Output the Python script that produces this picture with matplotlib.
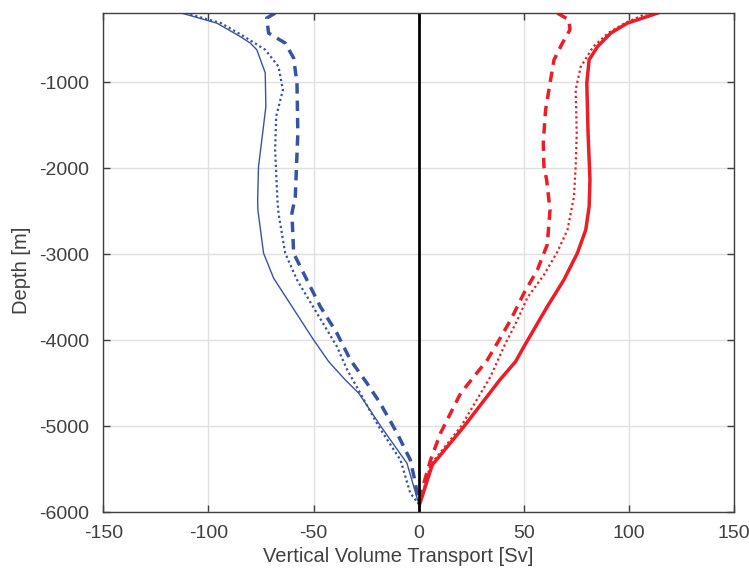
import numpy as np
import matplotlib.pyplot as plt

plt.rcParams['font.family'] = ['Liberation Sans', 'DejaVu Sans']
plt.rcParams['axes.unicode_minus'] = False

# Data (depth [m], transport [Sv])
# -------------------------------------------------------
blue_solid_depth = [-198, -314, -470, -546, -624, -892, -1287, -1985, -2369, -2485,
                    -2988, -3279, -3996, -4249, -4462, -4616, -5005, -5430, -5900]
blue_solid_val = [-112.7, -96, -84.9, -80.1, -77, -73, -72.7, -76.2, -76.6, -76.5,
                  -73.8, -69, -50, -42.8, -34.9, -28.5, -17.9, -5.6, 0]

blue_dot_depth = [-198, -314, -470, -624, -818, -1089, -1400, -1787, -2369, -2523,
                  -2988, -3298, -3686, -4074, -4345, -4616, -5005, -5392, -5779, -5900]
blue_dot_val = [-111, -94, -83, -73, -66.7, -64.6, -67.8, -68.3, -67.2, -66.7,
                -63.5, -57.9, -48.4, -38.9, -34, -27.8, -19, -8.7, -4, 0]

blue_dash_depth = [-198, -256, -430, -546, -720, -1012, -1593, -2330, -2523, -2988,
                   -3298, -3609, -3919, -4229, -4500, -4733, -5081, -5392, -5663, -5900]
blue_dash_val = [-68.3, -72.3, -71.4, -63.5, -59.5, -57.9, -57.5, -58.7, -60.3, -59.5,
                 -53.2, -46.8, -38.9, -32.5, -24.6, -18.3, -10.3, -4, -1.6, 0]

red_solid_depth = [-198, -314, -430, -586, -741, -1012, -1593, -2136, -2447, -2717,
                   -2988, -3298, -3609, -4074, -4249, -4462, -5005, -5450, -5900]
red_solid_val = [113.5, 99.2, 91.3, 85, 81, 79.9, 80.5, 81.4, 81, 79.4,
                 75.4, 69, 61.1, 50, 46, 38.5, 21.4, 6.4, 0.5]

red_dot_depth = [-198, -314, -430, -586, -822, -1089, -1593, -1981, -2330, -2717,
                 -2972, -3240, -3507, -3764, -4074, -4423, -5005, -5450, -5900]
red_dot_val = [108.7, 98, 90, 83, 77, 74.6, 75.1, 74.6, 73.8, 70.7,
               65.9, 59.5, 51.6, 46.9, 40.5, 34.1, 20, 5.5, 0.5]

red_dash_depth = [-198, -275, -391, -546, -741, -1012, -1322, -1709, -1981, -2136,
                  -2485, -2888, -3182, -3453, -3764, -4035, -4229, -4616, -5081, -5392,
                  -5663, -5900]
red_dash_val = [65.9, 71.4, 71.9, 68.3, 64.3, 62.4, 60.3, 59.2, 59.5, 60.8,
                62.4, 61.1, 56.4, 50, 43.7, 37.3, 32.6, 19.9, 10.3, 5.6,
                2.4, 0.5]

blue = '#3953a4'
red = '#ee1d25'
txt = '#404040'

fig = plt.figure(figsize=(7.49, 5.69), dpi=100)
ax = fig.add_axes([0.1379, 0.0996, 0.8424, 0.877])

ax.plot(blue_solid_val, blue_solid_depth, color=blue, lw=1.0)
ax.plot(blue_dot_val, blue_dot_depth, color=blue, lw=1.6, ls=(0, (1, 1.3)))
ax.plot(blue_dash_val, blue_dash_depth, color=blue, lw=2.5, ls=(0, (3, 2)))
ax.plot(red_solid_val, red_solid_depth, color=red, lw=2.5)
ax.plot(red_dot_val, red_dot_depth, color=red, lw=1.6, ls=(0, (1, 1.3)))
ax.plot(red_dash_val, red_dash_depth, color=red, lw=2.5, ls=(0, (3, 2)))
ax.axvline(0, color='black', lw=2)

ax.set_xlim(-150, 150)
ax.set_ylim(-6000, -200)
ax.set_xticks(np.arange(-150, 151, 50))
ax.set_yticks(np.arange(-6000, -999, 1000))
ax.grid(True, color='#e0e0e0', lw=1)
ax.set_axisbelow(True)

ax.tick_params(direction='in', top=True, right=True, length=5, width=1,
               colors=txt, labelsize=14, labelcolor=txt)
ax.tick_params(axis='y', pad=10)
ax.tick_params(axis='x', pad=9)
for s in ax.spines.values():
    s.set_color(txt)
    s.set_linewidth(1)

ax.set_xlabel('Vertical Volume Transport [Sv]', fontsize=14.5, color=txt)
ax.set_ylabel('Depth [m]', fontsize=14.5, color=txt)
ax.xaxis.set_label_coords(0.4675, -0.0695)
ax.yaxis.set_label_coords(-0.1146, 0.4846)

fig.savefig('out.png', dpi=100)
